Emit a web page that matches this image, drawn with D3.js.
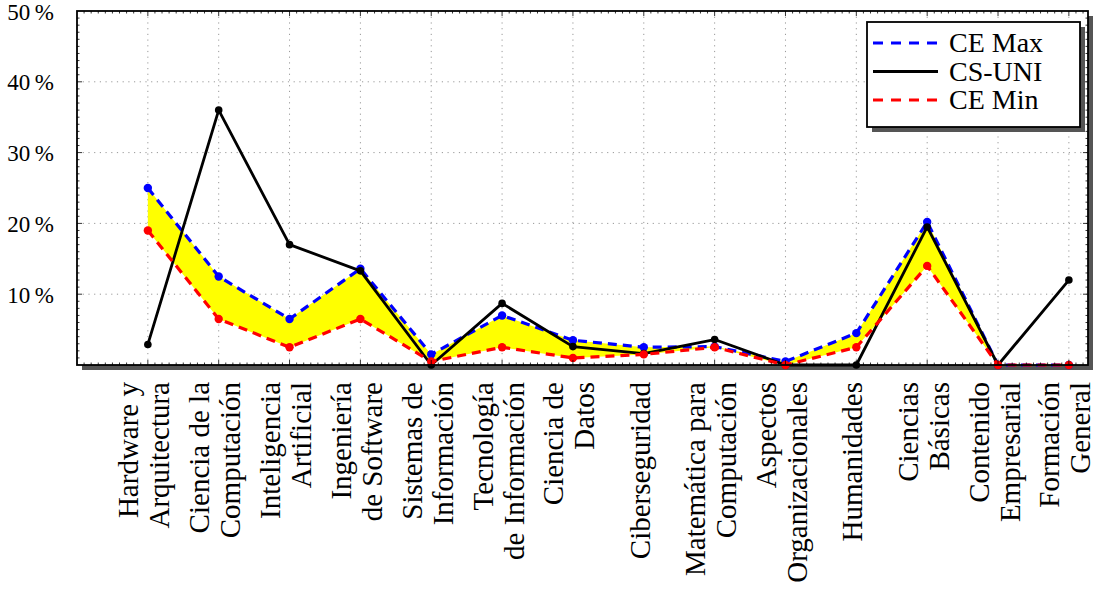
<!DOCTYPE html>
<html lang="es">
<head>
    <meta charset="UTF-8">
    <title>CE vs CS-UNI</title>
    <script src="https://d3js.org/d3.v7.min.js"></script>
    <style>
        body { margin: 0; background: #fff; }
        svg { display: block; }
        text { font-family: "Liberation Serif", "DejaVu Serif", serif; fill: #000; }
        .grid line { stroke: #999; stroke-width: 1; stroke-dasharray: 1.2 4.5; }
    </style>
</head>
<body>
    <svg id="chart"></svg>

    <script>
        // Areas of knowledge (x axis), one entry per line of the label
        const categories = [
            ["Hardware y", "Arquitectura"],
            ["Ciencia de la", "Computación"],
            ["Inteligencia", "Artificial"],
            ["Ingeniería", "de Software"],
            ["Sistemas de", "Información"],
            ["Tecnología", "de Información"],
            ["Ciencia de", "Datos"],
            ["Ciberseguridad"],
            ["Matemática para", "Computación"],
            ["Aspectos", "Organizacionales"],
            ["Humanidades"],
            ["Ciencias", "Básicas"],
            ["Contenido", "Empresarial"],
            ["Formación", "General"]
        ];

        // Percentages
        const ceMax = [25, 12.5, 6.5, 13.6, 1.5, 7, 3.5, 2.5, 2.6, 0.5, 4.5, 20.2, 0, 0];
        const csUni = [2.9, 36, 17, 13.3, 0, 8.7, 2.6, 1.6, 3.6, 0, 0, 19.5, 0, 12];
        const ceMin = [19, 6.5, 2.5, 6.5, 0.5, 2.5, 1, 1.5, 2.5, 0, 2.5, 14, 0, 0];

        const yTicks = [10, 20, 30, 40, 50];

        const width = 1097, height = 589;
        const pLeft = 77, pRight = 1088, pTop = 11, pBottom = 365;

        const svg = d3.select("#chart")
            .attr("width", width)
            .attr("height", height);

        const x = d3.scaleLinear().domain([-1, 13.27]).range([pLeft, pRight]);
        const y = d3.scaleLinear().domain([0, 50]).range([pBottom, pTop]);

        // shadow behind the axis box
        svg.append("rect")
            .attr("x", pLeft + 5).attr("y", pTop + 5)
            .attr("width", pRight - pLeft).attr("height", pBottom - pTop)
            .attr("fill", "#555");
        svg.append("rect")
            .attr("x", pLeft).attr("y", pTop)
            .attr("width", pRight - pLeft).attr("height", pBottom - pTop)
            .attr("fill", "#fff");

        // grid
        const grid = svg.append("g").attr("class", "grid");
        grid.selectAll(".gx")
            .data(d3.range(categories.length))
            .enter().append("line")
            .attr("x1", d => x(d)).attr("x2", d => x(d))
            .attr("y1", pTop).attr("y2", pBottom);
        grid.selectAll(".gy")
            .data(yTicks.filter(d => d < 50))
            .enter().append("line")
            .attr("x1", pLeft).attr("x2", pRight)
            .attr("y1", d => y(d)).attr("y2", d => y(d));

        // yellow band between CE Min and CE Max
        const idx = d3.range(categories.length);
        const band = d3.area()
            .x(i => x(i))
            .y0(i => y(ceMin[i]))
            .y1(i => y(ceMax[i]));
        svg.append("path")
            .datum(idx)
            .attr("d", band)
            .attr("fill", "#ffff00");

        const series = [
            { name: "CE Max", values: ceMax, color: "#0000ff", dash: "9 6", width: 3.2, r: 4.2 },
            { name: "CS-UNI", values: csUni, color: "#000000", dash: null, width: 2.8, r: 3.8 },
            { name: "CE Min", values: ceMin, color: "#ff0000", dash: "9 6", width: 3.2, r: 4.2 }
        ];

        const line = d3.line()
            .x((d, i) => x(i))
            .y(d => y(d));

        series.forEach(s => {
            const g = svg.append("g");
            g.append("path")
                .datum(s.values)
                .attr("d", line)
                .attr("fill", "none")
                .attr("stroke", s.color)
                .attr("stroke-width", s.width)
                .attr("stroke-linejoin", "round")
                .attr("stroke-dasharray", s.dash);
            g.selectAll("circle")
                .data(s.values)
                .enter().append("circle")
                .attr("cx", (d, i) => x(i))
                .attr("cy", d => y(d))
                .attr("r", s.r)
                .attr("fill", s.color);
        });

        // axis box with inward ticks
        const ticks = svg.append("g").attr("stroke", "#000").attr("stroke-width", 0.8);
        d3.range(1, 50).forEach(v => {
            const len = v % 10 === 0 ? 5 : 2.5;
            ticks.append("line").attr("x1", pLeft).attr("x2", pLeft + len).attr("y1", y(v)).attr("y2", y(v));
            ticks.append("line").attr("x1", pRight).attr("x2", pRight - len).attr("y1", y(v)).attr("y2", y(v));
        });
        d3.range(-9, 133).forEach(k => {
            const v = k / 10;
            const len = k % 10 === 0 ? 5 : 2.5;
            ticks.append("line").attr("x1", x(v)).attr("x2", x(v)).attr("y1", pBottom).attr("y2", pBottom - len);
            ticks.append("line").attr("x1", x(v)).attr("x2", x(v)).attr("y1", pTop).attr("y2", pTop + len);
        });

        svg.append("rect")
            .attr("x", pLeft).attr("y", pTop)
            .attr("width", pRight - pLeft).attr("height", pBottom - pTop)
            .attr("fill", "none")
            .attr("stroke", "#000")
            .attr("stroke-width", 1.8);

        // y tick labels
        svg.selectAll(".ylab")
            .data(yTicks)
            .enter().append("text")
            .attr("x", 54)
            .attr("y", d => y(d) + 8.5)
            .attr("text-anchor", "end")
            .style("font-size", "23px")
            .text(d => d + "\u2009%");

        // rotated x labels
        const lineGap = 31;
        categories.forEach((lines, i) => {
            lines.forEach((t, j) => {
                const cx = x(i) + (j - (lines.length - 1) / 2) * lineGap + 6;
                svg.append("text")
                    .attr("transform", `translate(${cx},382) rotate(-90)`)
                    .attr("text-anchor", "end")
                    .style("font-size", "29px")
                    .text(t);
            });
        });

        // legend
        const lg = svg.append("g").attr("transform", "translate(867,22)");
        lg.append("rect").attr("x", 5).attr("y", 5).attr("width", 213).attr("height", 105).attr("fill", "#555");
        lg.append("rect").attr("width", 213).attr("height", 105)
            .attr("fill", "#fff").attr("stroke", "#000").attr("stroke-width", 1.8);
        series.forEach((s, i) => {
            const ry = 21 + i * 28.5;
            lg.append("line")
                .attr("x1", 6).attr("x2", 71)
                .attr("y1", ry).attr("y2", ry)
                .attr("stroke", s.color)
                .attr("stroke-width", s.width)
                .attr("stroke-dasharray", s.dash ? "10 8" : null);
            lg.append("text")
                .attr("x", 82).attr("y", ry + 9)
                .style("font-size", "28px")
                .text(s.name);
        });
    </script>
</body>
</html>
